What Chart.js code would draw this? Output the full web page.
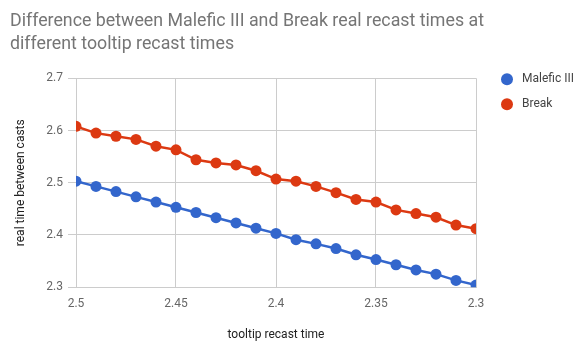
<!DOCTYPE html>
<html lang="en">
<head>
    <meta charset="UTF-8">
    <title>Malefic III vs Break recast times</title>
    <script src="https://cdn.jsdelivr.net/npm/chart.js@4.4.0/dist/chart.umd.min.js"></script>
    <style>
        html, body { margin: 0; padding: 0; background: #fff; }
        #wrap { width: 584px; height: 354px; }
    </style>
</head>
<body>
    <div id="wrap"><canvas id="myChart" width="584" height="354"></canvas></div>

<script>
// tooltip recast time (x) - axis runs from 2.5 down to 2.3
var tooltipTimes = [2.5, 2.49, 2.48, 2.47, 2.46, 2.45, 2.44, 2.43, 2.42, 2.41, 2.4,
                    2.39, 2.38, 2.37, 2.36, 2.35, 2.34, 2.33, 2.32, 2.31, 2.3];

// real time between casts
var maleficIII = [2.503, 2.493, 2.483, 2.473, 2.463, 2.453, 2.443, 2.433, 2.423, 2.413, 2.403,
                  2.391, 2.383, 2.374, 2.362, 2.353, 2.343, 2.333, 2.325, 2.313, 2.304];
var breakTimes = [2.608, 2.595, 2.589, 2.583, 2.570, 2.563, 2.544, 2.538, 2.534, 2.523, 2.507,
                  2.503, 2.493, 2.481, 2.468, 2.463, 2.448, 2.441, 2.434, 2.419, 2.412];

var seriesNames = ['Malefic III', 'Break'];
var seriesColors = ['#3366cc', '#dc3912'];

var xTicks = [2.5, 2.45, 2.4, 2.35, 2.3];
var yTicks = [2.3, 2.4, 2.5, 2.6, 2.7];

function toPoints(values) {
    return values.map(function (v, i) { return { x: tooltipTimes[i], y: v }; });
}

var font = 'Roboto';

// legend on the right, drawn next to the plot top
var sideLegend = {
    id: 'sideLegend',
    afterDraw: function (chart) {
        var ctx = chart.ctx;
        var area = chart.chartArea;
        ctx.save();
        chart.data.datasets.forEach(function (ds, i) {
            var cy = area.top + 1 + i * 25;
            var cx = area.right + 31;
            ctx.beginPath();
            ctx.arc(cx, cy, 6, 0, Math.PI * 2);
            ctx.fillStyle = ds.backgroundColor;
            ctx.fill();
            ctx.fillStyle = '#444';
            ctx.font = '12px ' + font;
            ctx.textAlign = 'left';
            ctx.textBaseline = 'middle';
            ctx.fillText(ds.label, cx + 15, cy);
        });
        ctx.restore();
    }
};

var ctx = document.getElementById('myChart').getContext('2d');
var myChart = new Chart(ctx, {
    type: 'line',
    data: {
        datasets: [
            {
                label: seriesNames[0],
                data: toPoints(maleficIII),
                borderColor: seriesColors[0],
                backgroundColor: seriesColors[0],
                borderWidth: 2.5,
                pointRadius: 5.5,
                pointBorderWidth: 0,
                tension: 0
            },
            {
                label: seriesNames[1],
                data: toPoints(breakTimes),
                borderColor: seriesColors[1],
                backgroundColor: seriesColors[1],
                borderWidth: 2.5,
                pointRadius: 5.5,
                pointBorderWidth: 0,
                tension: 0
            }
        ]
    },
    options: {
        responsive: false,
        animation: false,
        layout: { padding: { left: 10, right: 14, top: 0, bottom: 6 } },
        plugins: {
            legend: { display: false },
            tooltip: { enabled: false },
            title: {
                display: true,
                align: 'start',
                text: ['Difference between Malefic III and Break real recast times at',
                       'different tooltip recast times'],
                color: '#757575',
                font: { family: font, size: 17.8, weight: 'normal', lineHeight: 1.3 },
                padding: { top: 10, bottom: 22 }
            }
        },
        scales: {
            x: {
                type: 'linear',
                reverse: true,
                min: 2.3,
                max: 2.5,
                afterBuildTicks: function (s) { s.ticks = xTicks.map(function (v) { return { value: v }; }); },
                ticks: {
                    color: '#666',
                    font: { family: font, size: 12 },
                    padding: 10,
                    maxRotation: 0,
                    callback: function (v) { return String(+v.toFixed(2)); }
                },
                grid: { color: '#ccc', drawTicks: false },
                border: { color: '#ccc' },
                title: {
                    display: true,
                    text: 'tooltip recast time',
                    color: '#222',
                    font: { family: font, size: 12 },
                    padding: { top: 6, bottom: 6 }
                }
            },
            y: {
                min: 2.3,
                max: 2.7,
                afterBuildTicks: function (s) { s.ticks = yTicks.map(function (v) { return { value: v }; }); },
                afterFit: function (s) { s.width = 66; },
                ticks: {
                    color: '#666',
                    font: { family: font, size: 12 },
                    padding: 5,
                    callback: function (v) { return v.toFixed(1); }
                },
                grid: { color: '#ccc', tickLength: 8 },
                border: { color: '#ccc' },
                title: {
                    display: true,
                    text: 'real time between casts',
                    color: '#222',
                    font: { family: font, size: 12 },
                    padding: { top: 4, bottom: 0 }
                }
            },
            // empty axis on the right that keeps room for the legend
            legendSpace: {
                position: 'right',
                min: 2.3,
                max: 2.7,
                afterFit: function (s) { s.width = 94; },
                ticks: { display: false },
                grid: { display: false },
                border: { display: false }
            }
        }
    },
    plugins: [sideLegend]
});
</script>
</body>
</html>
